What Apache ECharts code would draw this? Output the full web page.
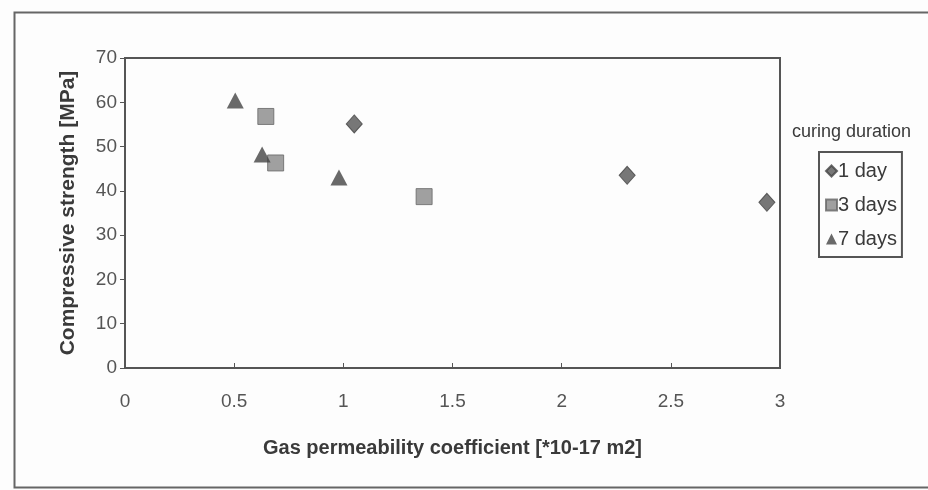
<!DOCTYPE html>
<html>
<head>
<meta charset="utf-8">
<script src="https://cdn.jsdelivr.net/npm/echarts@6/dist/echarts.min.js"></script>
<style>
html,body{margin:0;padding:0;background:#fdfdfd;}
#c{width:928px;height:490px;}
</style>
</head>
<body>
<div id="c"></div>
<script>
const seriesNames = ['1 day', '3 days', '7 days'];
const day1 = [[1.05, 55.1], [2.30, 43.5], [2.94, 37.4]];
const day3 = [[0.645, 56.8], [0.69, 46.3], [1.37, 38.7]];
const day7 = [[0.505, 60.4], [0.628, 48.2], [0.98, 43.0]];
const xTicks = [0, 0.5, 1, 1.5, 2, 2.5, 3];
const yTicks = [0, 10, 20, 30, 40, 50, 60, 70];

const chart = echarts.init(document.getElementById('c'));
const sans = '"Liberation Sans", Arial, sans-serif';
chart.setOption({
  backgroundColor: '#fdfdfd',
  animation: false,
  grid: {left: 125, right: 148, top: 58, bottom: 122, show: true, borderColor: '#555', borderWidth: 2, backgroundColor: 'transparent'},
  xAxis: {
    type: 'value', min: 0, max: 3, interval: 0.5,
    name: 'Gas permeability coefficient [*10-17 m2]',
    nameLocation: 'middle', nameGap: 70,
    nameTextStyle: {fontFamily: sans, fontWeight: 'bold', fontSize: 20, color: '#3a3a3a'},
    axisLine: {onZero: false, lineStyle: {color: '#555', width: 2}},
    axisTick: {show: true, inside: true, length: 5, lineStyle: {color: '#555'}},
    axisLabel: {fontFamily: sans, fontSize: 19, color: '#555', margin: 24,
      formatter: v => xTicks.includes(v) ? String(v) : ''},
    splitLine: {show: false}
  },
  yAxis: {
    type: 'value', min: 0, max: 70, interval: 10,
    name: 'Compressive strength [MPa]',
    nameLocation: 'middle', nameGap: 46,
    nameTextStyle: {fontFamily: sans, fontWeight: 'bold', fontSize: 21, color: '#3a3a3a'},
    axisLine: {lineStyle: {color: '#555', width: 2}},
    axisTick: {show: true, length: 5, lineStyle: {color: '#555'}},
    axisLabel: {fontFamily: sans, fontSize: 19, color: '#555', margin: 8,
      formatter: v => yTicks.includes(v) ? String(v) : ''},
    splitLine: {show: false}
  },
  legend: {
    orient: 'vertical', left: 819, top: 152,
    data: seriesNames,
    borderColor: '#555', borderWidth: 2,
    padding: [9, 5, 8, 6],
    itemWidth: 11, itemHeight: 11, itemGap: 14,
    textStyle: {fontFamily: sans, fontSize: 20, color: '#3a3a3a', padding: [0, 0, 0, -4]}
  },
  graphic: [
    {type: 'rect', left: 12, top: 10, shape: {width: 940, height: 475}, style: {fill: 'none', stroke: '#666', lineWidth: 2}, silent: true},
    {type: 'text', left: 792, top: 123, style: {text: 'curing duration', fontFamily: sans, fontSize: 18, fill: '#3a3a3a'}}
  ],
  series: [
    {name: seriesNames[0], type: 'scatter', data: day1, symbol: 'diamond', symbolSize: [16, 18],
      itemStyle: {color: '#555', borderColor: '#444', borderWidth: 1}},
    {name: seriesNames[1], type: 'scatter', data: day3, symbol: 'rect', symbolSize: 16,
      itemStyle: {color: '#888', borderColor: '#666', borderWidth: 1}},
    {name: seriesNames[2], type: 'scatter', data: day7, symbol: 'triangle', symbolSize: [17, 16],
      itemStyle: {color: '#444'}}
  ]
});
</script>
</body>
</html>
